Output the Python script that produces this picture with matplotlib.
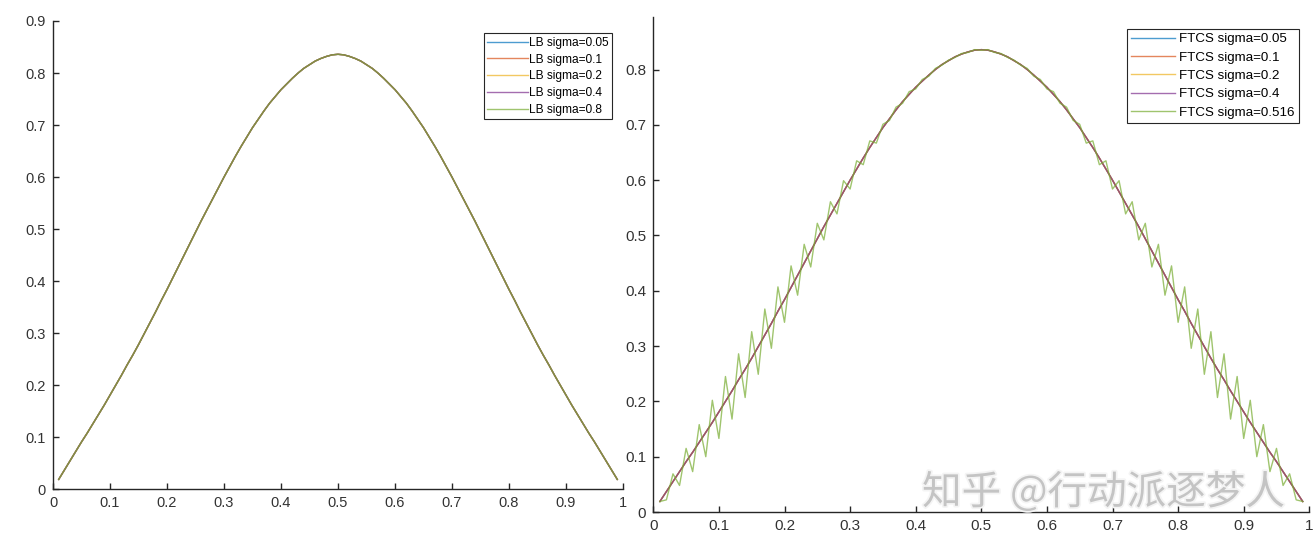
import matplotlib
matplotlib.use("Agg")
import matplotlib.pyplot as plt
import matplotlib.patheffects as pe
import numpy as np

plt.rcParams['font.family'] = ['Liberation Sans', 'DejaVu Sans']

# grid points x = 0.01 ... 0.99
x = np.linspace(0.01, 0.99, 99)

# smooth solution (all LB runs and FTCS sigma<=0.4 lie on top of each other)
smooth = [
    0.019, 0.037, 0.055, 0.073, 0.091, 0.108, 0.126, 0.144, 0.162, 0.181,
    0.200, 0.219, 0.239, 0.258, 0.278, 0.299, 0.320, 0.341, 0.363, 0.384,
    0.406, 0.428, 0.450, 0.472, 0.494, 0.516, 0.537, 0.558, 0.579, 0.600,
    0.620, 0.640, 0.659, 0.677, 0.695, 0.711, 0.727, 0.742, 0.755, 0.768,
    0.779, 0.790, 0.800, 0.809, 0.816, 0.823, 0.828, 0.832, 0.835, 0.836,
    0.835, 0.832, 0.828, 0.823, 0.816, 0.809, 0.800, 0.790, 0.779, 0.768,
    0.755, 0.742, 0.727, 0.711, 0.695, 0.677, 0.659, 0.640, 0.620, 0.600,
    0.579, 0.558, 0.537, 0.516, 0.494, 0.472, 0.450, 0.428, 0.406, 0.384,
    0.363, 0.341, 0.320, 0.299, 0.278, 0.258, 0.239, 0.219, 0.200, 0.181,
    0.162, 0.144, 0.126, 0.108, 0.091, 0.073, 0.055, 0.037, 0.019,
]

# FTCS sigma=0.516 (unstable, zigzag)
ftcs_516 = [
    0.019, 0.022, 0.069, 0.048, 0.115, 0.073, 0.158, 0.100, 0.202, 0.133,
    0.245, 0.168, 0.286, 0.207, 0.326, 0.249, 0.367, 0.296, 0.407, 0.343,
    0.445, 0.392, 0.484, 0.443, 0.522, 0.492, 0.561, 0.539, 0.599, 0.584,
    0.635, 0.628, 0.671, 0.667, 0.701, 0.708, 0.732, 0.739, 0.760, 0.765,
    0.782, 0.788, 0.802, 0.808, 0.817, 0.822, 0.829, 0.831, 0.836, 0.835,
    0.836, 0.831, 0.829, 0.822, 0.817, 0.808, 0.802, 0.788, 0.782, 0.765,
    0.760, 0.739, 0.732, 0.708, 0.701, 0.667, 0.671, 0.628, 0.635, 0.584,
    0.599, 0.539, 0.561, 0.492, 0.522, 0.443, 0.484, 0.392, 0.445, 0.343,
    0.407, 0.296, 0.367, 0.249, 0.326, 0.207, 0.286, 0.168, 0.245, 0.133,
    0.202, 0.100, 0.158, 0.073, 0.115, 0.048, 0.069, 0.022, 0.019,
]

lb_sigmas = ["0.05", "0.1", "0.2", "0.4", "0.8"]
ftcs_sigmas = ["0.05", "0.1", "0.2", "0.4", "0.516"]
colors = ["#0072BD", "#D95319", "#EDB120", "#7E2F8E", "#77AC30"]

dark = "#262626"


def style_axes(ax, ylim, yticks, fs):
    ax.set_xlim(0, 1)
    ax.set_ylim(*ylim)
    xt = np.arange(0, 1.01, 0.1)
    ax.set_xticks(xt)
    ax.set_xticklabels(["%g" % round(v, 1) for v in xt])
    ax.set_yticks(yticks)
    ax.set_yticklabels(["%g" % round(v, 1) for v in yticks])
    for s in ["top", "right"]:
        ax.spines[s].set_visible(False)
    for s in ["left", "bottom"]:
        ax.spines[s].set_color(dark)
        ax.spines[s].set_linewidth(1.0)
    ax.tick_params(direction="in", length=4, width=1.0, color=dark,
                   labelcolor="#333333", labelsize=fs, pad=5)
    ax.patch.set_alpha(0)


fig = plt.figure(figsize=(13.16, 5.49), dpi=100)

# left: LB
ax1 = fig.add_axes([53 / 1316, 1 - 489.3 / 549, 570 / 1316, 468.3 / 549])
for sig, c in zip(lb_sigmas, colors):
    ax1.plot(x, smooth, color=c, lw=1.0, alpha=0.7, label="LB sigma=" + sig)
style_axes(ax1, (0, 0.9), np.arange(0, 0.91, 0.1), 10.5)
leg1 = ax1.legend(loc="upper right", bbox_to_anchor=(0.981, 0.974),
                  borderaxespad=0, fontsize=8.6, handlelength=3.4,
                  handletextpad=0.1, labelspacing=0.4, borderpad=0.3,
                  fancybox=False, framealpha=1, edgecolor=dark)
leg1.get_frame().set_linewidth(0.8)

# right: FTCS
ax2 = fig.add_axes([653.3 / 1316, 1 - 512 / 549, 656 / 1316, 495 / 549])
for sig, c in zip(ftcs_sigmas, colors):
    y = ftcs_516 if sig == "0.516" else smooth
    ax2.plot(x, y, color=c, lw=1.0, alpha=0.7, label="FTCS sigma=" + sig)
style_axes(ax2, (0, 0.895), np.arange(0, 0.81, 0.1), 11)
leg2 = ax2.legend(loc="upper right", bbox_to_anchor=(0.984, 0.976),
                  borderaxespad=0, fontsize=9.6, handlelength=3.3,
                  handletextpad=0.35, labelspacing=0.45, borderpad=0.3,
                  fancybox=False, framealpha=1, edgecolor=dark)
leg2.get_frame().set_linewidth(0.8)

# watermark
fig.text(922 / 1316, 1 - 493 / 549, "知乎 @行动派逐梦人",
         family=["Noto Sans CJK SC", "DejaVu Sans"], fontsize=28.5,
         color="#c4c4c4", va="center", ha="left",
         path_effects=[pe.withStroke(linewidth=2.5, foreground="#f4f4f4")])

fig.savefig("out.png", dpi=100)
